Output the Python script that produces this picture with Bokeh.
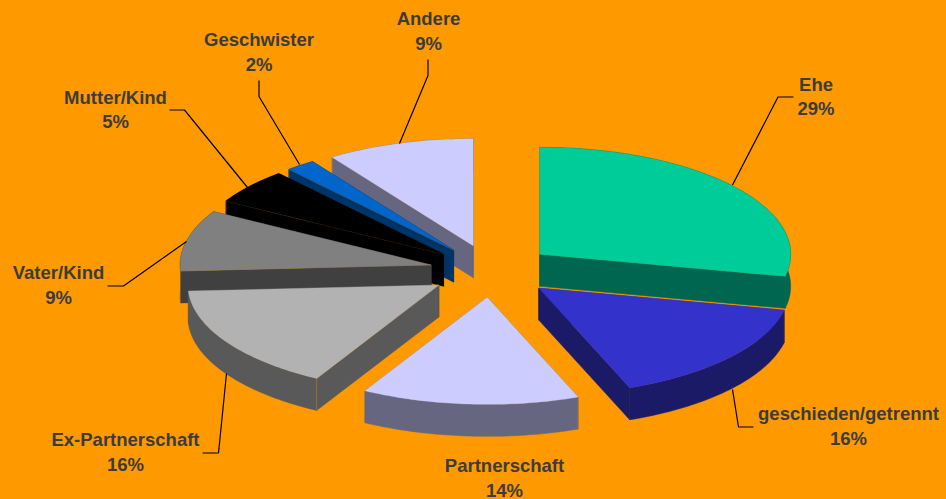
import math
from bokeh.plotting import figure
from bokeh.models import Range1d
from bokeh.core.properties import value
from bokeh.embed import file_html
from bokeh.resources import INLINE

categories = ["Ehe", "geschieden/getrennt", "Partnerschaft", "Ex-Partnerschaft",
              "Vater/Kind", "Mutter/Kind", "Geschwister", "Andere"]
shares = [28.3, 15.8, 14.0, 16.0, 9.2, 5.3, 1.9, 9.5]
percent_labels = ["29%", "16%", "14%", "16%", "9%", "5%", "2%", "9%"]
top_colors = ["#00CC99", "#3333CC", "#CCCCFF", "#B2B2B2", "#808080", "#000000", "#0066CC", "#CCCCFF"]
side_colors = ["#006650", "#1A1A66", "#666680", "#595959", "#404040", "#000000", "#003366", "#666680"]

BG = "#FF9900"
TEXT = "#3C3C3C"
CX, CY, RX, RY = 491, 270.5, 251, 107
EXPLODE, DEPTH = 62, 32

# label anchor (centre x, name y, percent y) and leader polyline, in page pixels
label_pos = [(815.5, 84, 108), (848, 413, 438), (504, 465, 489.5), (125, 439, 464),
             (58, 272, 297), (115, 97, 121), (258.5, 39, 64), (428, 18, 43)]
leaders = [
    [(732, 184.5), (777.5, 96.5), (793, 96.5)],
    [(732, 389), (738, 426.5), (753, 426.5)],
    [(226, 373), (218, 452.5), (202, 452.5)],
    [(186, 241), (123, 285.5), (107, 285.5)],
    [(169, 109.5), (184, 109.5), (247, 187)],
    [(258.5, 80), (258.5, 96), (299, 164)],
    [(427.5, 59), (427.5, 75), (399, 143)],
]

p = figure(width=946, height=499, output_backend="svg", toolbar_location=None,
           x_range=Range1d(0, 946), y_range=Range1d(499, 0),
           min_border=0, outline_line_color=None,
           background_fill_color=BG, border_fill_color=BG)
p.axis.visible = False
p.grid.visible = False

total = sum(shares)
spans = []
acc = 0.0
for s in shares:
    spans.append((acc / total * 2 * math.pi, (acc + s) / total * 2 * math.pi))
    acc += s


def rim_point(ax, ay, t):
    return ax + RX * math.sin(t), ay - RY * math.cos(t)


# painter's order: back slices first
draw_order = [7, 6, 5, 4, 3, 2, 0, 1]
for i in draw_order:
    t0, t1 = spans[i]
    tm = (t0 + t1) / 2
    ax = CX + EXPLODE * math.sin(tm)
    ay = CY - EXPLODE * RY / RX * math.cos(tm)
    n = max(int((t1 - t0) * 60), 4)
    arc = [rim_point(ax, ay, t0 + (t1 - t0) * k / n) for k in range(n + 1)]
    side = side_colors[i]
    # radial faces
    for ex, ey in (arc[0], arc[-1]):
        p.patch([ax, ex, ex, ax], [ay, ey, ey + DEPTH, ay + DEPTH],
                fill_color=side, line_color=side, line_width=0.5)
    # outer rim
    xs = [q[0] for q in arc] + [q[0] for q in reversed(arc)]
    ys = [q[1] for q in arc] + [q[1] + DEPTH for q in reversed(arc)]
    p.patch(xs, ys, fill_color=side, line_color=side, line_width=0.5)
    # seam on the front-facing radial edge
    p.line([ax, arc[0][0], arc[0][0]], [ay, arc[0][1], arc[0][1] + DEPTH],
           line_color=BG, line_alpha=0.45, line_width=0.7)
    # top face
    p.patch([ax] + [q[0] for q in arc], [ay] + [q[1] for q in arc],
            fill_color=top_colors[i], line_color=top_colors[i], line_width=0.3)

for poly in leaders:
    p.line([q[0] for q in poly], [q[1] for q in poly], line_color="#000000", line_width=1.2)

for name, pct, (lx, y1, y2) in zip(categories, percent_labels, label_pos):
    for txt, ly in ((name, y1), (pct, y2)):
        p.text([lx], [ly], text=[txt], text_font=value("Liberation Sans"),
               text_font_style="bold", text_font_size="18.5px", text_color=TEXT,
               text_align="center", text_baseline="middle")

html = file_html(p, INLINE)
html = html.replace("<head>", "<head><style>html,body{margin:0;padding:0;background:#FF9900;overflow:hidden}</style>", 1)
open("out.html", "w").write(html)
